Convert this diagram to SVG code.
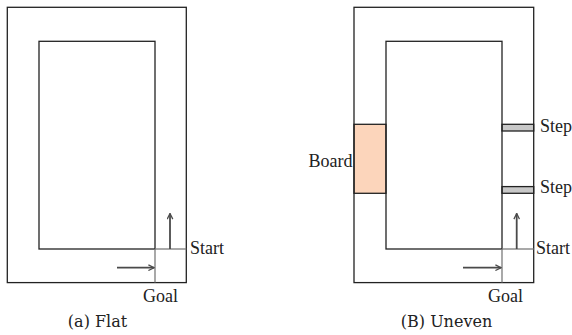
<svg xmlns="http://www.w3.org/2000/svg" width="572" height="335" viewBox="0 0 572 335">
<style>
.wall{fill:none;stroke:#222;stroke-width:1.3}
.grid{fill:none;stroke:#7a7a7a;stroke-width:1.3}
.arr{fill:none;stroke:#4a4a4a;stroke-width:1.8;marker-end:url(#ah)}
.lbl{font-family:"Liberation Serif","Times New Roman",serif;font-size:18px;fill:#222}
.cap{font-family:"DejaVu Serif",serif;font-size:16px;fill:#222;text-anchor:middle}
</style>
<defs>
<marker id="ah" viewBox="0 0 10 10" refX="9" refY="5" markerWidth="7" markerHeight="7" markerUnits="userSpaceOnUse" orient="auto">
<polyline points="1,1 9,5 1,9" fill="none" stroke="#4a4a4a" stroke-width="1.8"/>
</marker>
</defs>
<rect width="572" height="335" fill="#fff"/>
<g id="panel-a">
<rect class="wall" x="7.3" y="7.3" width="179" height="275.3"/>
<rect class="wall" x="39" y="41.3" width="116" height="207.7"/>
<line class="grid" x1="155" y1="249" x2="186.3" y2="249"/>
<line class="grid" x1="155" y1="249" x2="155" y2="282.6"/>
<text class="lbl" x="190" y="253.5">Start</text>
<text class="lbl" x="143" y="301.5">Goal</text>
<text class="cap" x="97.5" y="326.5">(a) Flat</text>
</g>
<g id="panel-b">
<rect x="354" y="124.3" width="32" height="69" fill="#fcd5bb" stroke="#222" stroke-width="1.3"/>
<rect x="502" y="124.3" width="31.7" height="6.7" fill="#c8c8c8" stroke="#222" stroke-width="1.3"/>
<rect x="502" y="186.6" width="31.7" height="6.7" fill="#c8c8c8" stroke="#222" stroke-width="1.3"/>
<rect class="wall" x="354" y="7.3" width="179.7" height="275.3"/>
<rect class="wall" x="386" y="41.3" width="116" height="207.7"/>
<line class="grid" x1="502" y1="249" x2="533.7" y2="249"/>
<line class="grid" x1="502" y1="249" x2="502" y2="282.6"/>
<text class="lbl" x="352.5" y="166.7" text-anchor="end">Board</text>
<text class="lbl" x="540" y="131.5">Step</text>
<text class="lbl" x="540" y="193.3">Step</text>
<text class="lbl" x="536" y="253.5">Start</text>
<text class="lbl" x="488" y="301.5">Goal</text>
<text class="cap" x="446.5" y="326.5">(B) Uneven</text>
</g>
<g id="connectors">
<line class="arr" x1="170" y1="249" x2="170" y2="213.5"/>
<line class="arr" x1="117" y1="267.7" x2="154" y2="267.7"/>
<line class="arr" x1="516.7" y1="249" x2="516.7" y2="213.5"/>
<line class="arr" x1="463" y1="267.7" x2="501" y2="267.7"/>
</g>
</svg>
